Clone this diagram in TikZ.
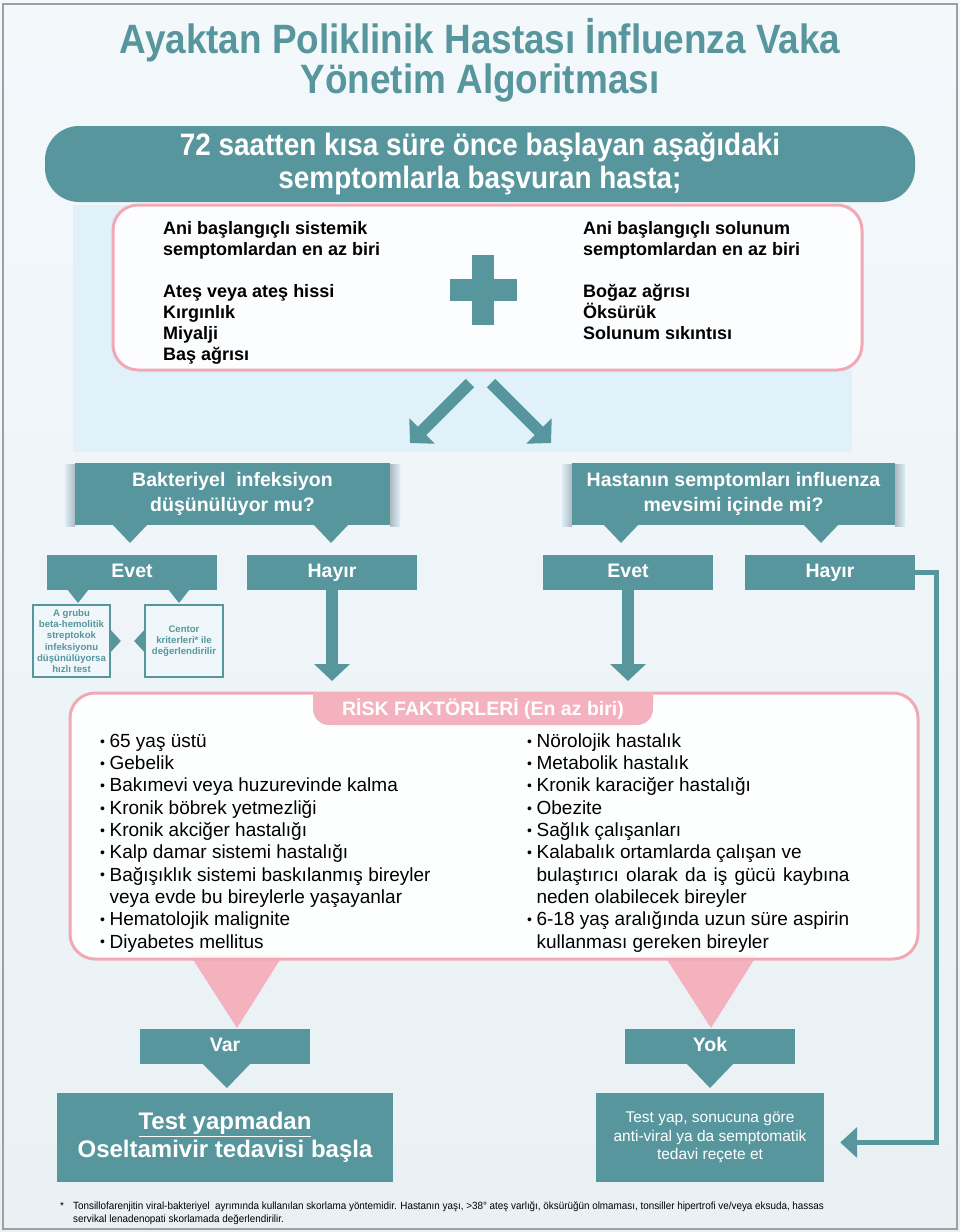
\documentclass[tikz,border=0pt]{standalone}
\usepackage{fontspec}
\setmainfont{Liberation Sans}
\newfontfamily\condfont[FakeStretch=0.9]{Liberation Sans}
\newfontfamily\fnfont[FakeStretch=0.94]{Liberation Sans}
\usetikzlibrary{arrows.meta}
\definecolor{tealc}{HTML}{58969E}
\definecolor{pinkb}{HTML}{F2A9B6}
\definecolor{pinkt}{HTML}{F4B1BE}
\definecolor{bgtop}{HTML}{F3F8FB}
\definecolor{bgmid}{HTML}{DDEDF6}
\definecolor{bgbot}{HTML}{E9F1F5}
\definecolor{panelc}{HTML}{E1F1F9}
\tikzset{
  tealbox/.style={fill=tealc, text=white, inner sep=0pt, align=center},
  qbox/.style={tealbox, font=\bfseries\fontsize{19.5}{25}\selectfont},
  abox/.style={tealbox, font=\bfseries\fontsize{19.5}{22}\selectfont, minimum width=170, minimum height=35,
    text height=14pt, text depth=4pt},
  smallbox/.style={draw=tealc, line width=1.6, fill=white!55!bgmid, text=tealc, align=center,
    font=\bfseries\fontsize{9.6}{11.2}\selectfont, inner sep=0pt},
  pinkframe/.style={draw=pinkb, line width=3, fill=white, fill opacity=0.92, rounded corners=25, inner sep=0pt},
  bigarrow/.style={draw=tealc, line width=12, -{Triangle[length=17pt,width=35pt]}},
  conn/.style={draw=tealc, line width=5, -{Triangle[length=17pt,width=30pt]}},
  symtext/.style={anchor=base west, align=left, inner sep=0pt, font=\bfseries\fontsize{18}{21}\selectfont},
  risktext/.style={anchor=base west, align=left, inner sep=0pt, font=\fontsize{19}{22.3}\selectfont},
}
\newcommand{\bul}{\raisebox{1.2pt}{\fontsize{14}{14}\selectfont •}\hspace{4.5pt}}
\newcommand{\ind}{\hphantom{\bul}}
\begin{document}
\begin{tikzpicture}[x=1pt,y=-1pt]
\useasboundingbox (0,0) rectangle (960,1232);
% background
\shade[top color=bgtop, middle color=bgmid, bottom color=bgbot] (0,0) rectangle (960,1232);
\fill[panelc] (73,205) rectangle (852,452);
\draw[gray!75, line width=1.2] (3,4) rectangle (957,1229);

% title
\node[anchor=base, align=center, inner sep=0pt, text=tealc,
      font=\condfont\bfseries\fontsize{41}{36}\selectfont] (title) at (480,93)
  {Ayaktan Poliklinik Hastası İnfluenza Vaka\\Yönetim Algoritması};

% top box
\node[tealbox, rounded corners=34, minimum width=870, minimum height=76,
      font=\condfont\bfseries\fontsize{31}{33}\selectfont] (top) at (480,164)
  {72 saatten kısa süre önce başlayan aşağıdaki\\semptomlarla başvuran hasta;};

% symptom box
\node[pinkframe, minimum width=749, minimum height=165] (sym) at (487.5,287.5) {};
\node[symtext] (symL) at (163,360)
  {Ani başlangıçlı sistemik\\semptomlardan en az biri\\[21pt]Ateş veya ateş hissi\\Kırgınlık\\Miyalji\\Baş ağrısı};
\node[symtext] (symR) at (583,339)
  {Ani başlangıçlı solunum\\semptomlardan en az biri\\[21pt]Boğaz ağrısı\\Öksürük\\Solunum sıkıntısı};
\fill[tealc] (472,255) rectangle (494,325);
\fill[tealc] (450,279) rectangle (517,301);

% diagonal arrows
\coordinate (d1s) at (470,383); \coordinate (d1e) at (410,443);
\coordinate (d2s) at (491,383); \coordinate (d2e) at (551,443);
\draw[bigarrow] (d1s) -- (d1e);
\draw[bigarrow] (d2s) -- (d2e);

% question boxes (with side shadows)
\shade[left color=bgmid, right color=black!22!bgmid] (65,464) rectangle (75,526);
\shade[right color=bgmid, left color=black!22!bgmid] (390,464) rectangle (400,526);
\shade[left color=bgmid, right color=black!22!bgmid] (562,464) rectangle (572,526);
\shade[right color=bgmid, left color=black!22!bgmid] (895,464) rectangle (905,526);
\node[qbox, minimum width=315, minimum height=62] (q1) at (232.5,494)
  {Bakteriyel\ \ infeksiyon\\düşünülüyor mu?};
\node[qbox, minimum width=323, minimum height=62] (q2) at (733.5,494)
  {Hastanın semptomları influenza\\mevsimi içinde mi?};
\foreach \x in {130,331,621,821}
  \fill[tealc] (\x-18,524) -- (\x+18,524) -- (\x,543) -- cycle;

% answer boxes
\node[abox] (e1) at (132,572.5) {Evet};
\node[abox] (h1) at (332,572.5) {Hayır};
\node[abox] (e2) at (628,572.5) {Evet};
\node[abox] (h2) at (830,572.5) {Hayır};
\foreach \x in {78,179}
  \fill[tealc] (\x-11,589) -- (\x+11,589) -- (\x,603) -- cycle;

% small boxes
\node[smallbox, minimum width=77, minimum height=72] (sb1) at (71.5,641)
  {A grubu\\beta-hemolitik\\streptokok\\infeksiyonu\\düşünülüyorsa\\hızlı test};
\node[smallbox, minimum width=78, minimum height=72] (sb2) at (184,641)
  {Centor\\kriterleri* ile\\değerlendirilir};
\fill[tealc] (sb1.east) ++(0,-11) -- ++(10,11) -- ++(-10,11) -- cycle;
\fill[tealc] (sb2.west) ++(0,-11) -- ++(-10,11) -- ++(10,11) -- cycle;

% down arrows
\coordinate (a1e) at (332,681);
\coordinate (a2e) at (628,681);
\draw[bigarrow] (h1.south) -- (a1e);
\draw[bigarrow] (e2.south) -- (a2e);

% pink triangles
\fill[pinkt] (190,955) -- (283,955) -- (237,1028) -- cycle;
\fill[pinkt] (664,955) -- (757,955) -- (711,1028) -- cycle;

% risk box
\node[pinkframe, minimum width=848, minimum height=266] (risk) at (494,826) {};
\fill[pinkt] (313,692) -- (313,709) arc[start angle=180, end angle=90, radius=16]
  -- (637,725) arc[start angle=90, end angle=0, radius=16] -- (653,692) -- cycle;
\node[text=white, inner sep=0pt, font=\bfseries\fontsize{19.5}{20}\selectfont] (riskh) at (483,709)
  {RİSK FAKTÖRLERİ (En az biri)};
\node[risktext] (riskL) at (100,948)
  {\bul 65 yaş üstü\\\bul Gebelik\\\bul Bakımevi veya huzurevinde kalma\\\bul Kronik böbrek yetmezliği\\
   \bul Kronik akciğer hastalığı\\\bul Kalp damar sistemi hastalığı\\\bul Bağışıklık sistemi baskılanmış bireyler\\
   \ind veya evde bu bireylerle yaşayanlar\\\bul Hematolojik malignite\\\bul Diyabetes mellitus};
\node[risktext] (riskR) at (527,948)
  {\bul Nörolojik hastalık\\\bul Metabolik hastalık\\\bul Kronik karaciğer hastalığı\\\bul Obezite\\
   \bul Sağlık çalışanları\\\bul Kalabalık ortamlarda çalışan ve\\\ind\makebox[313pt][s]{bulaştırıcı olarak da iş gücü kaybına}\\
   \ind neden olabilecek bireyler\\\bul 6-18 yaş aralığında uzun süre aspirin\\\ind kullanması gereken bireyler};

% outcome boxes
\node[abox] (var) at (225,1046.5) {Var};
\node[abox] (yok) at (710,1046.5) {Yok};
\fill[tealc] (203,1064) -- (250,1064) -- (227,1088) -- cycle;
\fill[tealc] (687,1064) -- (733,1064) -- (710,1088) -- cycle;
\node[tealbox, minimum width=336, minimum height=89, font=\bfseries\fontsize{24}{28}\selectfont] (lbox) at (225,1137.5)
  {\underline{Test yapmadan}\\Oseltamivir tedavisi başla};
\node[tealbox, minimum width=228, minimum height=89, font=\fontsize{15.5}{18.5}\selectfont] (rbox) at (710,1137.5)
  {Test yap, sonucuna göre\\anti-viral ya da semptomatik\\tedavi reçete et};

% connector from right Hayır
\coordinate (rarr) at ([xshift=16pt,yshift=-5pt]rbox.east);
\draw[conn] (h2.east) -- ++(21,0) |- (rarr);

% footnote
\node[anchor=base west, inner sep=0pt, font=\fnfont\fontsize{10.5}{13}\selectfont] (fnstar) at (60,1209) {*};
\node[anchor=base west, align=left, inner sep=0pt, font=\fnfont\fontsize{10.5}{13}\selectfont] (fn) at (73,1222)
  {Tonsillofarenjitin viral-bakteriyel\ \ ayrımında kullanılan skorlama yöntemidir. Hastanın yaşı, >38° ateş varlığı, öksürüğün olmaması, tonsiller hipertrofi ve/veya eksuda, hassas\\servikal lenadenopati skorlamada değerlendirilir.};
\end{tikzpicture}
\end{document}
